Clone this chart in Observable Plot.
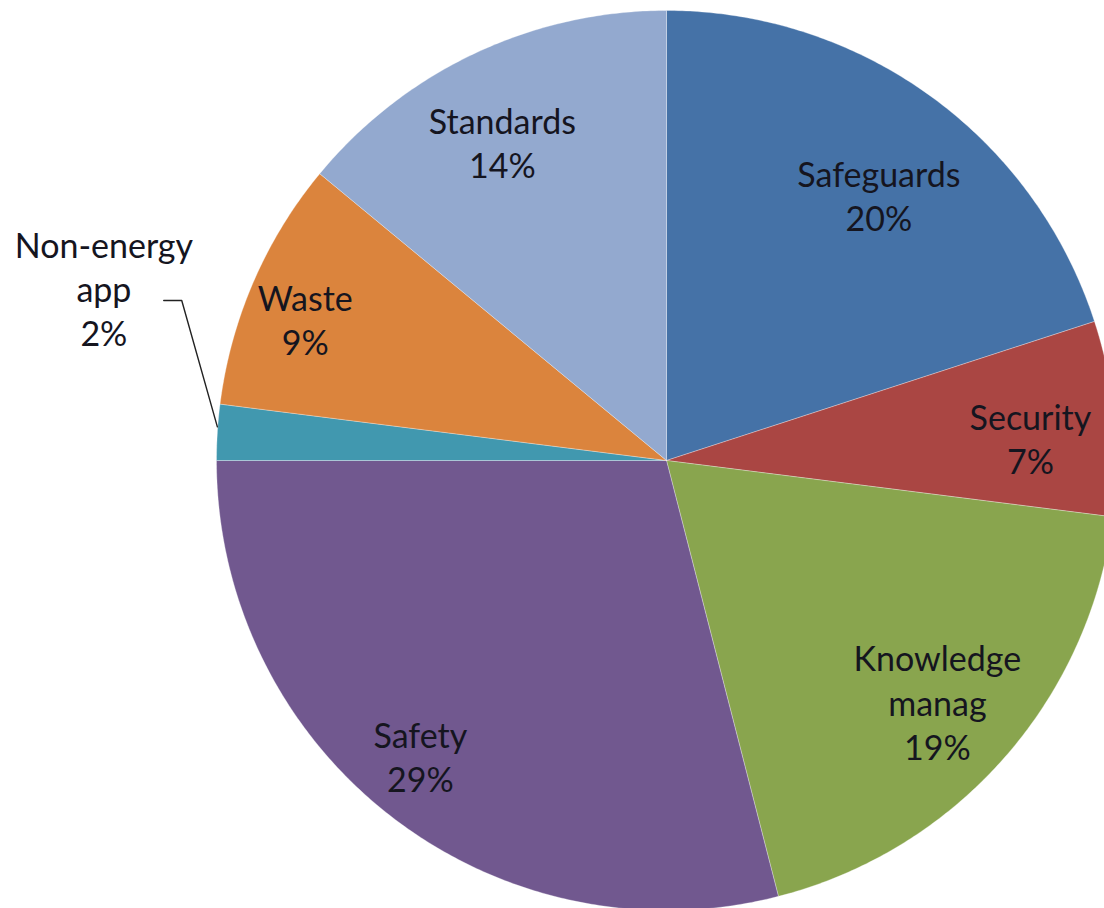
<!DOCTYPE html>
<html>
<head>
<meta charset="utf-8">
<script src="https://cdn.jsdelivr.net/npm/d3@7"></script>
<script src="https://cdn.jsdelivr.net/npm/@observablehq/plot@0.6"></script>
<style>
  html, body { margin: 0; padding: 0; background: #fff; }
  #chart svg { display: block; }
</style>
</head>
<body>
<div id="chart"></div>
<script>
// ---- data ----
const categories = ["Safeguards", "Security", "Knowledge manag", "Safety", "Non-energy app", "Waste", "Standards"];
const shares = [20, 7, 19, 29, 2, 9, 14];
const labelTexts = ["Safeguards", "Security", "Knowledge\nmanag", "Safety", "Non-energy\napp", "Waste", "Standards"];
const colors = ["#4572A7", "#AA4643", "#89A54E", "#71588F", "#4198AF", "#DB843D", "#93A9CF"];
// label placement (fraction of radius, angular nudge in degrees)
const labelRadius = [0.75, 0.81, 0.81, 0.86, 1.306, 0.86, 0.79];
const labelNudge = [3, 2.3, 0.6, 1.7, 13.2, -2.4, -2.3];

// ---- geometry from data ----
const total = d3.sum(shares);
const ends = d3.cumsum(shares);
const rad = (deg) => deg * Math.PI / 180;
const polar = (deg, r) => ({x: r * Math.sin(rad(deg)), y: r * Math.cos(rad(deg))});

const slices = [];
categories.forEach((name, i) => {
  const a0 = (ends[i] - shares[i]) / total * 360;
  const a1 = ends[i] / total * 360;
  slices.push({name, x: 0, y: 0});
  const n = Math.max(2, Math.ceil((a1 - a0) / 0.5));
  for (let k = 0; k <= n; k++) {
    const p = polar(a0 + (a1 - a0) * k / n, 1);
    slices.push({name, ...p});
  }
  slices.push({name, x: 0, y: 0});
});

const labels = categories.map((name, i) => {
  const mid = (ends[i] - shares[i] / 2) / total * 360;
  const p = polar(mid + labelNudge[i], labelRadius[i]);
  return {name, text: labelTexts[i] + "\n" + shares[i] + "%", ...p, mid};
});

// leader line for the small outside label
const ne = labels[4];
const edge = polar(ne.mid, 1.0);
const leader = [
  {x: ne.x + 0.133, y: ne.y - 0.022},
  {x: ne.x + 0.173, y: ne.y - 0.022},
  {x: edge.x, y: edge.y + 0.012}
];

const chart = Plot.plot({
  width: 1104,
  height: 908,
  margin: 0,
  style: {fontFamily: "Lato, 'Open Sans', sans-serif", background: "#fff"},
  x: {domain: [-1, 1], range: [216, 1116], axis: null},
  y: {domain: [-1, 1], range: [910, 10], axis: null},
  color: {domain: categories, range: colors},
  marks: [
    Plot.line(slices, {x: "x", y: "y", z: "name", fill: "name", stroke: "#ffffff", strokeOpacity: 0.3, strokeWidth: 1, curve: "linear"}),
    Plot.line(leader, {x: "x", y: "y", stroke: "#222", strokeWidth: 1.4}),
    Plot.text(labels, {x: "x", y: "y", text: "text", fontSize: 34, lineHeight: 1.3, dy: -3, fill: "#15151f", textAnchor: "middle", lineAnchor: "middle"})
  ]
});
document.getElementById("chart").appendChild(chart);
</script>
</body>
</html>
